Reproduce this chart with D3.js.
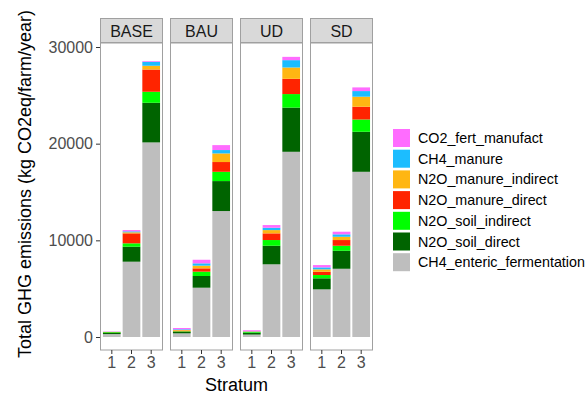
<!DOCTYPE html>
<html>
<head>
<meta charset="utf-8">
<script src="https://cdn.jsdelivr.net/npm/d3@7"></script>
<style>
  body { margin: 0; background: #fff; }
  svg { font-family: "Liberation Sans", Arial, sans-serif; }
</style>
</head>
<body>
<div id="chart"></div>
<script>
// Escenarios y estratos
const scenarios = ["BASE", "BAU", "UD", "SD"];
const strata = ["1", "2", "3"];
const yTicks = [0, 10000, 20000, 30000];

// Series (orden: BASE 1-3, BAU 1-3, UD 1-3, SD 1-3)
const CH4_enteric_fermentation = [300, 7790, 20130, 380, 5100, 13030, 250, 7520, 19160, 4930, 7060, 17090];
const N2O_soil_direct          = [120, 1550, 4100, 140, 1210, 3100, 200, 1920, 4570, 1140, 1860, 4140];
const N2O_soil_indirect        = [80, 350, 1140, 70, 450, 960, 80, 590, 1400, 340, 520, 1270];
const N2O_manure_direct        = [20, 1030, 2300, 70, 340, 1010, 30, 690, 1580, 340, 590, 1320];
const N2O_manure_indirect      = [10, 110, 390, 70, 280, 890, 20, 340, 1170, 250, 340, 1040];
const CH4_manure               = [10, 100, 410, 70, 240, 350, 20, 240, 760, 200, 250, 580];
const CO2_fert_manufact        = [30, 130, 70, 130, 370, 510, 100, 280, 340, 240, 270, 380];

const keys = ["CH4_enteric_fermentation", "N2O_soil_direct", "N2O_soil_indirect",
  "N2O_manure_direct", "N2O_manure_indirect", "CH4_manure", "CO2_fert_manufact"];
const colors = ["#BEBEBE", "#006400", "#00FF00", "#FF2400", "#FFB612", "#1CBDFF", "#FF6CFF"];
const series = {CH4_enteric_fermentation, N2O_soil_direct, N2O_soil_indirect,
  N2O_manure_direct, N2O_manure_indirect, CH4_manure, CO2_fert_manufact};

// Tabla para d3.stack
const data = [];
scenarios.forEach((s, i) => strata.forEach((st, j) => {
  const row = {scenario: s, stratum: st};
  keys.forEach(k => row[k] = series[k][i * strata.length + j]);
  data.push(row);
}));
const stacked = d3.stack().keys(keys)(data);

const W = 587, H = 398;
const svg = d3.select("#chart").append("svg").attr("width", W).attr("height", H);

const panelTop = 43, panelBottom = 350, stripTop = 18;
const fx = d3.scaleBand().domain(scenarios).range([100, 373]).paddingInner(0.1).paddingOuter(0);
const x = d3.scaleBand().domain(strata).range([0, fx.bandwidth()]).paddingInner(0.1).paddingOuter(0.15);
const y = d3.scaleLinear().domain([0, 30000]).range([337, 47]);
const color = d3.scaleOrdinal().domain(keys).range(colors);

// Paneles
const panels = svg.selectAll("g.panel").data(scenarios).join("g")
  .attr("class", "panel")
  .attr("transform", d => `translate(${fx(d)},0)`);

panels.append("rect")
  .attr("x", 0.5).attr("y", panelTop)
  .attr("width", fx.bandwidth() - 1).attr("height", panelBottom - panelTop)
  .attr("fill", "#fff");

// Barras apiladas
stacked.forEach(layer => {
  panels.selectAll(null)
    .data(s => layer.filter(d => d.data.scenario === s))
    .join("rect")
    .attr("x", d => x(d.data.stratum))
    .attr("width", x.bandwidth())
    .attr("y", d => y(d[1]))
    .attr("height", d => y(d[0]) - y(d[1]))
    .attr("fill", color(layer.key));
});

panels.append("rect")
  .attr("x", 0.5).attr("y", panelTop)
  .attr("width", fx.bandwidth() - 1).attr("height", panelBottom - panelTop)
  .attr("fill", "none").attr("stroke", "#A0A0A0").attr("stroke-width", 1);

// Tiras
panels.append("rect")
  .attr("x", 0.5).attr("y", stripTop + 0.5)
  .attr("width", fx.bandwidth() - 1).attr("height", panelTop - stripTop - 1)
  .attr("fill", "#D9D9D9").attr("stroke", "#A0A0A0");
panels.append("text")
  .attr("x", fx.bandwidth() / 2).attr("y", (stripTop + panelTop) / 2 + 6)
  .attr("text-anchor", "middle").attr("font-size", 16).attr("fill", "#1A1A1A")
  .text(d => d);

// Eje X por panel
panels.each(function() {
  const g = d3.select(this).append("g")
    .attr("transform", `translate(0,${panelBottom})`)
    .call(d3.axisBottom(x).tickSize(4).tickPadding(3));
  g.select(".domain").remove();
  g.selectAll("line").attr("stroke", "#333");
  g.selectAll("text").attr("font-size", 16).attr("fill", "#4D4D4D").attr("font-family", null);
});

// Eje Y
const gy = svg.append("g").attr("transform", "translate(100,0)")
  .call(d3.axisLeft(y).tickValues(yTicks).tickFormat(d3.format("d")).tickSize(4).tickPadding(3));
gy.select(".domain").remove();
gy.selectAll("line").attr("stroke", "#333");
gy.selectAll("text").attr("font-size", 16).attr("fill", "#4D4D4D").attr("font-family", null);

// Títulos
svg.append("text")
  .attr("x", 236.5).attr("y", 391)
  .attr("text-anchor", "middle").attr("font-size", 18).attr("fill", "#000")
  .text("Stratum");
svg.append("text")
  .attr("transform", `translate(31,${(stripTop + panelBottom) / 2}) rotate(-90)`)
  .attr("text-anchor", "middle").attr("font-size", 18).attr("fill", "#000")
  .text("Total GHG emissions (kg CO2eq/farm/year)");

// Leyenda
const legendKeys = keys.slice().reverse();
const legend = svg.append("g").attr("transform", "translate(393,129)");
const item = legend.selectAll("g").data(legendKeys).join("g")
  .attr("transform", (d, i) => `translate(0,${i * 20.7})`);
item.append("rect").attr("width", 17).attr("height", 18).attr("fill", d => color(d));
item.append("text").attr("x", 25).attr("y", 14).attr("font-size", 14.3).attr("fill", "#000")
  .text(d => d);
</script>
</body>
</html>
